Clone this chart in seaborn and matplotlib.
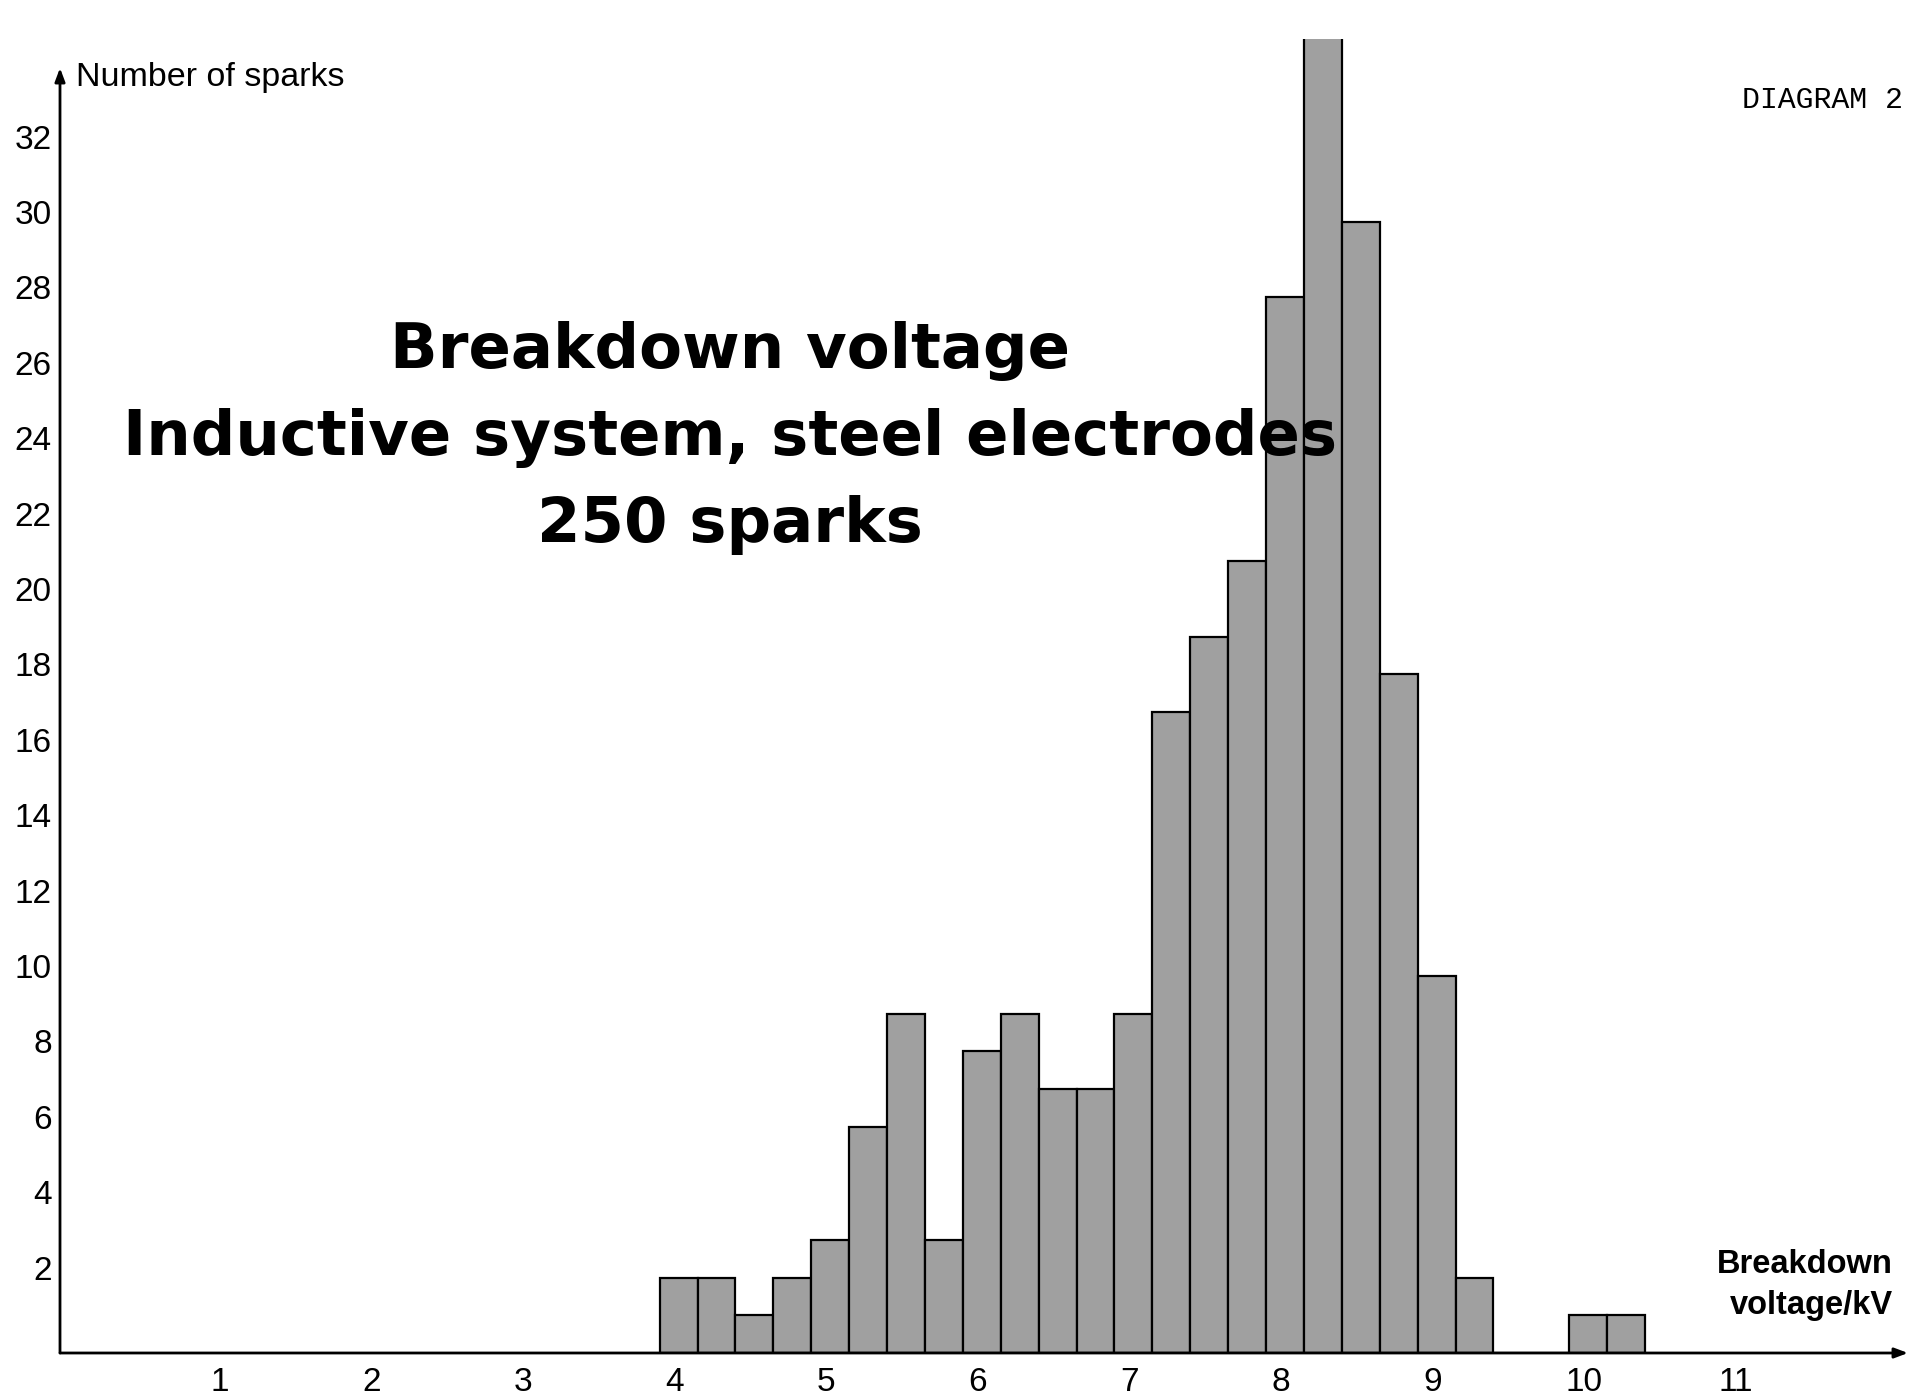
import matplotlib
matplotlib.use("Agg")
import matplotlib.pyplot as plt
import matplotlib.transforms as mtransforms
import numpy as np
import seaborn as sns

# Histogram of breakdown voltages: left edge of each 0.25 kV class and spark count
bin_left_kv = [3.90, 4.15, 4.40, 4.65, 4.90, 5.15, 5.40, 5.65, 5.90, 6.15,
               6.40, 6.65, 6.90, 7.15, 7.40, 7.65, 7.90, 8.15, 8.40, 8.65,
               8.90, 9.15, 9.40, 9.65, 9.90, 10.15]
spark_counts = [2, 2, 1, 2, 3, 6, 9, 3, 8, 9,
                7, 7, 9, 17, 19, 21, 28, 35, 30, 18,
                10, 2, 0, 0, 1, 1]
bin_width_kv = 0.25

x_ticks = [1, 2, 3, 4, 5, 6, 7, 8, 9, 10, 11]
y_ticks = [2, 4, 6, 8, 10, 12, 14, 16, 18, 20, 22, 24, 26, 28, 30, 32]

title_lines = ["Breakdown voltage",
               "Inductive system, steel electrodes",
               "250 sparks"]

sns.set_style("white")
plt.rcParams["font.family"] = ["Liberation Sans", "DejaVu Sans"]
plt.rcParams["text.color"] = "black"
plt.rcParams["xtick.color"] = "black"
plt.rcParams["ytick.color"] = "black"
plt.rcParams["axes.labelcolor"] = "black"

W, H = 1910, 1398
fig = plt.figure(figsize=(W / 100, H / 100), dpi=100)
fig.patch.set_facecolor("white")


def fx(px):
    return px / W


def fy(py):
    return 1 - py / H


# axes geometry (pixels)
left_px, base_px = 60, 1353
unit_y = 37.7
ymax = 34.85
ax_h = ymax * unit_y
ax = fig.add_axes([fx(left_px), fy(base_px), fx(W - left_px), ax_h / H])

edges = list(bin_left_kv) + [bin_left_kv[-1] + bin_width_kv]
centers = [b + bin_width_kv / 2 for b in bin_left_kv]

sns.histplot(x=centers, weights=spark_counts, bins=edges, stat="count",
             color="#a0a0a0", alpha=1.0, edgecolor="black", linewidth=1.6,
             ax=ax)

ax.set_xlim(-0.0554, 12.148)
ax.set_ylim(0, ymax)
ax.set_xlabel("")
ax.set_ylabel("")
for s in ax.spines.values():
    s.set_visible(False)
ax.set_facecolor("none")

ax.set_xticks(x_ticks)
ax.set_xticklabels([str(t) for t in x_ticks])
ax.set_yticks(y_ticks)
ax.set_yticklabels([str(t) for t in y_ticks])
ax.tick_params(axis="both", length=0, labelsize=24, colors="black",
               labelcolor="black")
ax.tick_params(axis="x", pad=10)
ax.tick_params(axis="y", pad=6)
lift = mtransforms.ScaledTranslation(0, 10 / 100, fig.dpi_scale_trans)
for lab in ax.get_yticklabels():
    lab.set_transform(lab.get_transform() + lift)

# axis lines with arrow heads
arrow_kw = dict(arrowstyle="-|>,head_length=0.8,head_width=0.3", lw=2,
                color="black", shrinkA=0, shrinkB=0)
ax.annotate("", xy=(0, (base_px - 68) / ax_h), xytext=(0, 0),
            xycoords="axes fraction", textcoords="axes fraction",
            arrowprops=arrow_kw, annotation_clip=False)
ax.annotate("", xy=((1908 - left_px) / (W - left_px), 0), xytext=(0, 0),
            xycoords="axes fraction", textcoords="axes fraction",
            arrowprops=arrow_kw, annotation_clip=False)

# axis captions
fig.text(fx(76), fy(86), "Number of sparks", fontsize=24.5, color="black",
         ha="left", va="baseline")
fig.text(fx(1893), fy(1273), "Breakdown", fontsize=23.5, weight="bold",
         color="black", ha="right", va="baseline")
fig.text(fx(1893), fy(1314), "voltage/kV", fontsize=23.5, weight="bold",
         color="black", ha="right", va="baseline")

# title block
for line, base in zip(title_lines, [368, 455, 542]):
    fig.text(fx(730), fy(base), line, fontsize=45, weight="bold",
             family=["DejaVu Sans"], color="black",
             ha="center", va="baseline")

fig.text(fx(1742), fy(108), "DIAGRAM 2", fontsize=21.5, color="black",
         family=["Liberation Mono", "DejaVu Sans Mono"],
         ha="left", va="baseline")

fig.savefig("out.png", dpi=100, facecolor="white")
